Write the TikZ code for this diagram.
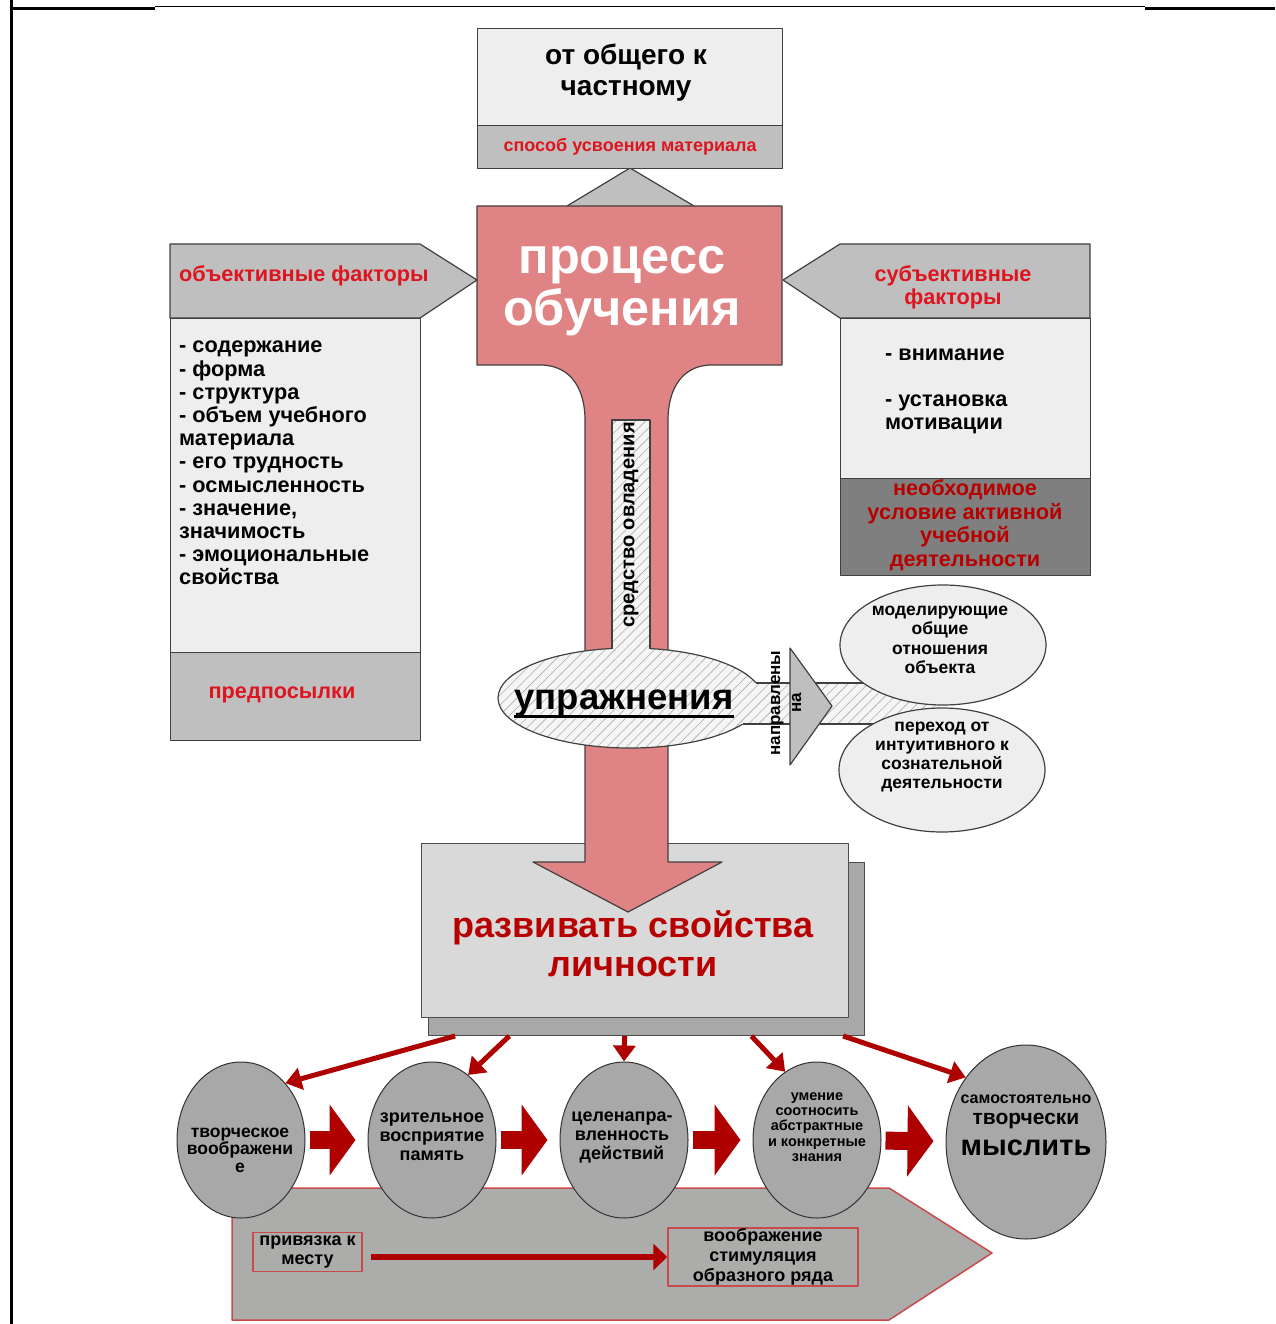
\documentclass[tikz,border=0pt]{standalone}
\usepackage{fontspec}
\setmainfont{Liberation Sans}
\usetikzlibrary{shapes.geometric,arrows.meta,patterns.meta,calc}
\definecolor{salmon}{RGB}{224,131,133}
\definecolor{boxlight}{RGB}{238,238,238}
\definecolor{boxmid}{RGB}{191,191,191}
\definecolor{boxdark}{RGB}{127,127,127}
\definecolor{txtred}{RGB}{222,20,30}
\definecolor{deepred}{RGB}{185,0,0}
\definecolor{devgray}{RGB}{217,217,217}
\definecolor{shadowgray}{RGB}{168,168,168}
\definecolor{ellgray}{RGB}{168,168,168}
\definecolor{arrred}{RGB}{175,0,0}
\definecolor{panelgray}{RGB}{172,172,170}
\definecolor{panelline}{RGB}{200,75,75}
\newcommand\fsz[2]{\fontsize{#1}{#2}\selectfont\bfseries}
\begin{document}
\begin{tikzpicture}[x=1pt,y=-1pt,line join=round,
  edge/.style={draw=black!75,line width=1.2pt},
  lightbox/.style={edge,fill=boxlight,anchor=north west,inner sep=0pt},
  midbox/.style={edge,fill=boxmid,anchor=north west,inner sep=0pt},
  hatch/.style={preaction={fill=gray!8},pattern={Lines[angle=45,distance=7pt,line width=.6pt]},pattern color=gray!65},
  oval/.style={ellipse,edge,fill=boxlight,minimum width=206pt,minimum height=120pt,inner sep=0pt},
  bell/.style={ellipse,draw=black!80,line width=1pt,fill=ellgray,minimum width=128pt,minimum height=156pt,inner sep=0pt},
  ntext/.style={font=\fsz{18}{19},align=center},
  redframe/.style={draw=panelline,line width=1.5pt,align=center,inner sep=0pt},
  blockarr/.style={draw=arrred,line width=18pt,-{Triangle[length=26pt,width=70pt]},shorten <=4pt,shorten >=12pt},
  thinarr/.style={draw=arrred,line width=5pt,-{Triangle[length=16pt,width=22pt]}}]
\useasboundingbox (0,0) rectangle (1275,1324);
\draw[line width=3pt] (11,0) -- (11,1324);
\draw[line width=3pt] (9.5,9) -- (155,9);
\draw[line width=1pt] (155,7) -- (1145,7);
\draw[line width=3pt] (1145,9) -- (1275,9);

\draw[fill=panelgray,draw=panelline,line width=1.5pt] (232,1188) -- (889,1188) -- (992,1253) -- (889,1320) -- (232,1320) -- cycle;
\node[redframe,minimum width=109pt,minimum height=39pt,font=\fsz{18}{19}] (priv) at (307.5,1252) {привязка к\\месту};
\node[redframe,minimum width=190pt,minimum height=58pt,font=\fsz{18}{20}] (vobr) at (763,1257) {воображение\\стимуляция\\образного ряда};
\draw[draw=arrred,line width=6pt,-{Triangle[length=14pt,width=26pt]},shorten <=8pt] ([yshift=-5pt]priv.east) -- (vobr.west);

\node[fill=shadowgray,draw=black!70,line width=1pt,anchor=north west,minimum width=436pt,minimum height=173pt,inner sep=0pt] (devsh) at (428,862) {};
\node[fill=devgray,draw=black!70,line width=1pt,anchor=north west,minimum width=427pt,minimum height=174pt,inner sep=0pt] (dev) at (421,843) {};
\node[font=\fsz{36}{38.5},text=deepred,align=center] (devt) at (633,944) {развивать свойства\\личности};

\draw[edge,fill=boxmid] (567,206) -- (630,168) -- (694,206);
\draw[edge,fill=salmon] (477,206) -- (782,206) -- (782,365) -- (712,365)
  .. controls (680,365) and (668,392) .. (668,420) -- (668,862) -- (722,862) -- (628,912)
  -- (533,862) -- (585,862) -- (585,420) .. controls (585,392) and (573,365) .. (540,365)
  -- (477,365) -- cycle;
\node[font=\fsz{50.5}{52},text=white,align=center] (proc) at (622,291) {процесс\\обучения};

\node[lightbox,minimum width=305pt,minimum height=97pt] (gen) at (477,28) {};
\node[font=\fsz{28}{31},align=center] (gent) at (626,73) {от общего к\\частному};
\node[midbox,minimum width=305pt,minimum height=43pt,text=txtred,font=\fsz{18}{20}] (way) at (477,125) {способ усвоения материала};

\draw[edge,fill=boxmid] (170,244) -- (420,244) -- (477,280) -- (420,318) -- (170,318) -- cycle;
\node[text=txtred,font=\fsz{21.7}{23},anchor=west,inner sep=0pt] (objh) at (179,276) {объективные факторы};
\node[lightbox,minimum width=250pt,minimum height=334pt] (objb) at (170,318) {};
\node[font=\fsz{21.7}{23.2},align=left,anchor=north west,inner sep=0pt] (objl) at (179,341) {- содержание\\- форма\\- структура\\- объем учебного\\материала\\- его трудность\\- осмысленность\\- значение,\\значимость\\- эмоциональные\\свойства};
\node[midbox,minimum width=250pt,minimum height=88pt] (pred) at (170,652) {};
\node[text=txtred,font=\fsz{21.7}{23}] (predt) at (282,695) {предпосылки};

\draw[edge,fill=boxmid] (783,280) -- (840,244) -- (1090,244) -- (1090,318) -- (840,318) -- cycle;
\node[text=txtred,font=\fsz{21.7}{23},align=center] (subh) at (953,287) {субъективные\\факторы};
\node[lightbox,minimum width=250pt,minimum height=160pt] (subb) at (840,318) {};
\node[font=\fsz{21.7}{23},align=left,anchor=north west,inner sep=0pt] (subl) at (885,349) {- внимание\\[23pt]- установка\\мотивации};
\node[edge,fill=boxdark,anchor=north west,minimum width=250pt,minimum height=97pt,inner sep=0pt] (cond) at (840,478) {};
\node[text=deepred,font=\fsz{21.7}{23.5},align=center] (condt) at (965,525) {необходимое\\условие активной\\учебной\\деятельности};

\node[ellipse,edge,hatch,minimum width=264pt,minimum height=100pt] (ex) at (630,698) {};
\path[hatch] (612,420) rectangle (650,660);
\draw[edge] (612,649) -- (612,420) -- (650,420) -- (650,649);
\path[hatch] (740,683) rectangle (940,724);
\draw[edge] (756,683) -- (940,683) (743,724) -- (940,724);
\node[font=\fsz{36.5}{38},inner sep=0pt] (upr) at (624,703) {упражнения};
\draw[line width=3pt] ([yshift=-7pt]upr.base west) -- ([yshift=-7pt]upr.base east);
\node[rotate=90,font=\fsz{20}{22}] (sred) at (631,525) {средство овладения};

\draw[edge,fill=boxmid] (790,648) -- (832,706) -- (790,765) -- cycle;
\node[rotate=90,font=\fsz{17}{21},align=center] (napr) at (786,703) {направлены\\на};

\node[oval] (mod) at (943,645) {};
\node[font=\fsz{17.5}{19.3},align=center] (modt) at (940,640) {моделирующие\\общие\\отношения\\объекта};
\node[oval,minimum height=124pt] (pere) at (942,770) {};
\node[font=\fsz{17.5}{19.3},align=center] (peret) at (942,757) {переход от\\интуитивного к\\сознательной\\деятельности};

\foreach \n/\x in {1/241,2/432,3/624,4/817}
  \node[bell] (e\n) at (\x,1140) {};
\node[bell,minimum width=160pt,minimum height=194pt] (e5) at (1026,1142) {};
\node[ntext,font=\fsz{17.5}{17.5}] (t1) at (240,1150) {творческое\\воображени\\е};
\node[ntext] (t2) at (432,1137) {зрительное\\восприятие\\память};
\node[ntext] (t3) at (622,1137) {целенапра-\\вленность\\действий};
\node[ntext,font=\fsz{14.5}{15.3}] (t4) at (817,1127) {умение\\соотносить\\абстрактные\\и конкретные\\знания};
\node[font=\fsz{16}{18}] (t5a) at (1026,1099) {самостоятельно};
\node[font=\fsz{21}{23}] (t5b) at (1026,1121) {творчески};
\node[font=\fsz{29}{31}] (t5c) at (1026,1148) {мыслить};

\foreach \a/\b in {e1/e2,e2/e3,e3/e4,e4/e5}
  \draw[blockarr] (\a) -- (\b);
\foreach \p/\e in {0.062/e1.52,0.186/e2.61,0.450/e3.90,0.74/e4.115,0.95/e5.133}
  \draw[thinarr] ($(devsh.south west)!\p!(devsh.south east)$) -- (\e);
\end{tikzpicture}
\end{document}
